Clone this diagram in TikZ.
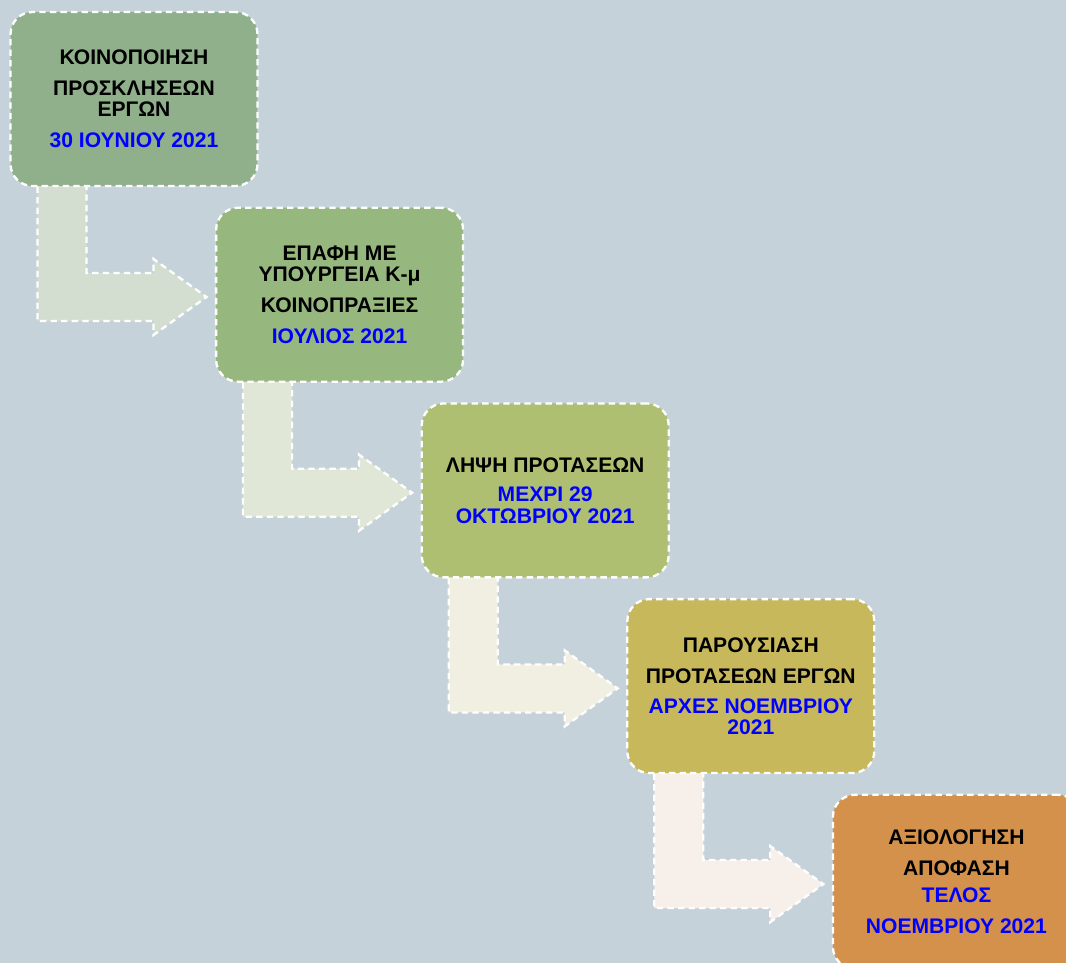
\documentclass[tikz,border=0pt]{standalone}
\usepackage{fontspec}
\setmainfont{Liberation Sans}
\usetikzlibrary{calc}
\definecolor{bg}{RGB}{198,210,217}
\definecolor{stageA}{RGB}{143,176,138}
\definecolor{stageB}{RGB}{150,183,126}
\definecolor{stageC}{RGB}{174,191,113}
\definecolor{stageD}{RGB}{200,184,92}
\definecolor{stageE}{RGB}{211,145,75}
\definecolor{bendA}{RGB}{211,222,208}
\definecolor{bendB}{RGB}{225,231,214}
\definecolor{bendC}{RGB}{240,239,225}
\definecolor{bendD}{RGB}{247,239,234}
\definecolor{datecol}{RGB}{0,0,255}
\newcommand{\when}[1]{\textcolor{datecol}{#1}}
\begin{document}
\begin{tikzpicture}[x=0.02cm, y=-0.02cm,
  stage/.style={draw=white, line width=1.3pt, dash pattern=on 3.6pt off 2.4pt,
    rounded corners=0.44cm, minimum width=4.94cm, minimum height=3.48cm,
    inner sep=0pt, align=center,
    font=\fontsize{12}{12.2}\selectfont\bfseries},
  bentarrow/.style={draw=white, line width=1.3pt, dash pattern=on 3.6pt off 2.4pt}]
  \fill[bg] (0,0) rectangle (1066,963);
  \useasboundingbox (0,0) rectangle (1066,963);
  \clip (0,0) rectangle (1066,963);
  % positions of the stages
  \coordinate (notif)   at (134,99);
  \coordinate (contact) at ($(notif)+(205.6,195.7)$);
  \coordinate (receipt) at ($(contact)+(205.6,195.7)$);
  \coordinate (present) at ($(receipt)+(205.6,195.7)$);
  \coordinate (eval)    at ($(present)+(205.6,195.7)$);
  % bent arrows below each stage
  \foreach \s/\c in {notif/bendA, contact/bendB, receipt/bendC, present/bendD}
    \draw[bentarrow, fill=\c] ($(\s)+(-96.5,77)$) -- ($(\s)+(-96.5,222)$)
      -- ($(\s)+(19.5,222)$) -- ($(\s)+(19.5,236)$) -- ($(\s)+(72.5,198)$)
      -- ($(\s)+(19.5,160)$) -- ($(\s)+(19.5,174)$) -- ($(\s)+(-47.5,174)$)
      -- ($(\s)+(-47.5,77)$);
  \node[stage, fill=stageA] (notifbox) at (notif)
    {ΚΟΙΝΟΠΟΙΗΣΗ\\[5.4pt] ΠΡΟΣΚΛΗΣΕΩΝ\\ ΕΡΓΩΝ\\[5.4pt] \when{30 ΙΟΥΝΙΟΥ 2021}};
  \node[stage, fill=stageB] (contactbox) at (contact)
    {ΕΠΑΦΗ ΜΕ\\ ΥΠΟΥΡΓΕΙΑ Κ-μ\\[5.4pt] ΚΟΙΝΟΠΡΑΞΙΕΣ\\[5.4pt] \when{ΙΟΥΛΙΟΣ 2021}};
  \node[stage, fill=stageC] (receiptbox) at (receipt)
    {ΛΗΨΗ ΠΡΟΤΑΣΕΩΝ\\[4.8pt] \when{ΜΕΧΡΙ 29}\\ \when{ΟΚΤΩΒΡΙΟΥ 2021}};
  \node[stage, fill=stageD] (presentbox) at (present)
    {ΠΑΡΟΥΣΙΑΣΗ\\[5.4pt] ΠΡΟΤΑΣΕΩΝ ΕΡΓΩΝ\\[4.8pt] \when{ΑΡΧΕΣ ΝΟΕΜΒΡΙΟΥ}\\ \when{2021}};
  \node[stage, fill=stageE] (evalbox) at (eval)
    {ΑΞΙΟΛΟΓΗΣΗ\\[5.4pt] ΑΠΟΦΑΣΗ\\[3.2pt] \when{ΤΕΛΟΣ}\\[5.4pt] \when{ΝΟΕΜΒΡΙΟΥ 2021}};
\end{tikzpicture}
\end{document}
